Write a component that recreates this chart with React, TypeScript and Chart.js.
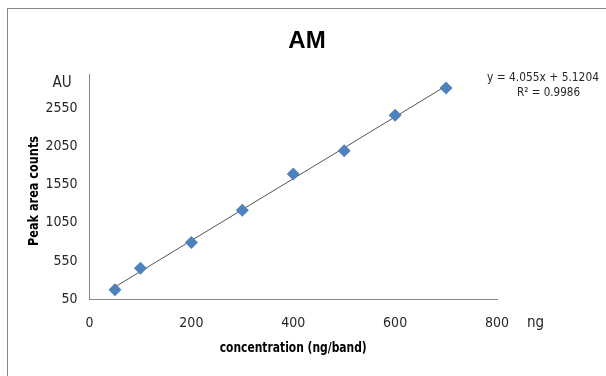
import React, { useEffect, useRef } from "react";
import { Chart, registerables } from "chart.js";

Chart.register(...registerables);

// ---- data ----
const concentrations = [50, 100, 200, 300, 400, 500, 600, 700];
const peakAreas = [170, 452, 790, 1212, 1690, 1993, 2458, 2817];
const trendX = [50, 700];
const trendY = [208, 2844];
const yTickValues = [50, 550, 1050, 1550, 2050, 2550];
const xTickValues = [0, 200, 400, 600, 800];
const titleText = "AM";
const equationLines = ["y = 4.055x + 5.1204", "R\u00B2 = 0.9986"];
const yUnitLabel = "AU";
const xUnitLabel = "ng";
const xAxisTitle = "concentration (ng/band)";
const yAxisTitle = "Peak area counts";

const NARROW = "'Liberation Sans Narrow', 'DejaVu Sans Condensed', 'Roboto', sans-serif";
const TEXT = "#262626";
const AXIS = "#868686";

function fitText(ctx: any, text: string, cx: number, cy: number, width: number, rotate = 0) {
  const w = ctx.measureText(text).width;
  ctx.save();
  ctx.translate(cx, cy);
  if (rotate) ctx.rotate(rotate);
  ctx.scale(width / w, 1);
  ctx.textAlign = "center";
  ctx.textBaseline = "middle";
  ctx.fillText(text, 0, 0);
  ctx.restore();
}

const decorPlugin = {
  id: "decor",
  beforeDraw(chart: any) {
    const ctx = chart.ctx;
    ctx.save();
    ctx.fillStyle = "#ffffff";
    ctx.fillRect(0, 0, chart.width, chart.height);
    ctx.strokeStyle = AXIS;
    ctx.lineWidth = 1;
    ctx.strokeRect(7.5, 8.5, chart.width + 50, chart.height + 50);
    ctx.restore();
  },
  afterDraw(chart: any) {
    const ctx = chart.ctx;
    const area = chart.chartArea;
    ctx.save();
    ctx.fillStyle = "#000";
    ctx.textAlign = "center";
    ctx.textBaseline = "middle";
    ctx.font = "bold 24px 'Liberation Sans', Arial, sans-serif";
    ctx.fillText(titleText, 307, 41);

    // axis titles
    ctx.font = `bold 14px ${NARROW}`;
    fitText(ctx, xAxisTitle, (area.left + area.right) / 2, 348, 147);
    fitText(ctx, yAxisTitle, 34, 191, 110, -Math.PI / 2);

    ctx.fillStyle = TEXT;
    ctx.font = `13px ${NARROW}`;
    fitText(ctx, equationLines[0], 543, 78, 112);
    fitText(ctx, equationLines[1], 548.5, 93, 63);

    ctx.font = `15px ${NARROW}`;
    ctx.textAlign = "center";
    ctx.textBaseline = "middle";
    ctx.fillText(yUnitLabel, 62, 83);
    ctx.textAlign = "left";
    ctx.fillText(xUnitLabel, 527, 323);
    ctx.restore();
  },
};

export default function App() {
  const ref = useRef<HTMLCanvasElement | null>(null);
  useEffect(() => {
    if (!ref.current) return;
    const chart = new Chart(ref.current, {
      type: "scatter",
      data: {
        datasets: [
          {
            label: "trend",
            data: trendX.map((x, i) => ({ x, y: trendY[i] })),
            showLine: true,
            borderColor: "#555555",
            borderWidth: 1,
            pointRadius: 0,
            order: 2,
          },
          {
            label: "AM",
            data: concentrations.map((x, i) => ({ x, y: peakAreas[i] })),
            pointStyle: "rectRot",
            pointRadius: 6.5,
            backgroundColor: "#4F81BD",
            borderColor: "#4A7EBB",
            borderWidth: 0,
            order: 1,
          },
        ],
      },
      options: {
        responsive: false,
        animation: false,
        layout: { padding: { top: 74, right: 109, left: 0, bottom: 0 } },
        plugins: {
          legend: { display: false },
          tooltip: { enabled: false },
          title: { display: false },
        },
        scales: {
          x: {
            type: "linear",
            min: 0,
            max: 800,
            afterBuildTicks: (axis: any) => {
              axis.ticks = xTickValues.map((v) => ({ value: v }));
            },
            afterFit: (scale: any) => {
              scale.height = 77;
            },
            grid: { display: false, drawTicks: false },
            border: { display: true, color: AXIS, width: 1 },
            ticks: {
              padding: 16,
              color: TEXT,
              font: { family: NARROW, size: 14 },
              maxRotation: 0,
              callback: (v: any) => String(v),
            },
            title: { display: false, text: xAxisTitle },
          },
          y: {
            type: "linear",
            min: 50,
            max: 3000,
            afterBuildTicks: (axis: any) => {
              axis.ticks = yTickValues.map((v) => ({ value: v }));
            },
            afterFit: (scale: any) => {
              scale.width = 89.5;
            },
            grid: { display: false, drawTicks: false },
            border: { display: true, color: AXIS, width: 1 },
            ticks: {
              padding: 12,
              color: TEXT,
              font: { family: NARROW, size: 14 },
              callback: (v: any) => String(v),
            },
            title: { display: false, text: yAxisTitle },
          },
        },
      },
      plugins: [decorPlugin],
    } as any);
    return () => chart.destroy();
  }, []);

  return (
    <div style={{ position: "fixed", left: 0, top: 0, width: 606, height: 376 }}>
      <canvas ref={ref} width={606} height={376} style={{ display: "block" }} />
    </div>
  );
}
